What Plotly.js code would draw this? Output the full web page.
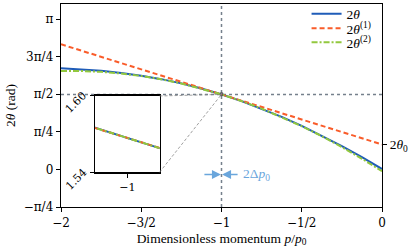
<!DOCTYPE html>
<html>
<head>
<meta charset="utf-8">
<script src="https://cdn.plot.ly/plotly-3.0.1.min.js"></script>
<style>html,body{margin:0;padding:0;background:#fff}#chart{width:415px;height:250px}</style>
</head>
<body>
<div id="chart"></div>
<script>
// ---- data ----
const momentum = [-2, -1.875, -1.75, -1.625, -1.5, -1.375, -1.25, -1.125, -1.0075, -1, -0.9925, -0.875, -0.75, -0.625, -0.5, -0.375, -0.25, -0.125, 0];
const theta2Exact = [2.114, 2.091, 2.059, 2.015, 1.959, 1.886, 1.798, 1.689, 1.575, 1.567, 1.559, 1.427, 1.270, 1.097, 0.909, 0.705, 0.487, 0.255, 0.008];
const theta2Second = [2.056, 2.056, 2.039, 2.004, 1.953, 1.883, 1.796, 1.689, 1.575, 1.567, 1.559, 1.427, 1.270, 1.095, 0.903, 0.694, 0.467, 0.222, -0.036];
const momentumFirst = [-2, -1.0075, -1, -0.9925, 0];
const theta2First = [2.614, 1.575, 1.567, 1.559, 0.520];
const resonanceP = -1;
const resonanceTheta = 1.567;
const deltaP0 = 0.0037;
const theta0Label = 0.520;
const xTickVals = [-2, -1.5, -1, -0.5, 0];
const xTickText = ['\u22122', '\u22123/2', '\u22121', '\u22121/2', '0'];
const yTickVals = [-Math.PI/4, 0, Math.PI/4, Math.PI/2, 3*Math.PI/4, Math.PI];
const yTickText = ['\u2212\u03c0/4', '0', '\u03c0/4', '\u03c0/2', '3\u03c0/4', '\u03c0'];
const insetXRange = [-1.0075, -0.9925];
const insetYRange = [1.54, 1.60];
const insetYTicks = [1.54, 1.60];
const insetYTickText = ['1.54', '1.60'];
const seriesNames = ['2<i>\u03b8</i>', '2<i>\u03b8</i><sup>(1)</sup>', '2<i>\u03b8</i><sup>(2)</sup>'];

// ---- styles ----
const FONT = 'Liberation Serif, Times New Roman, serif';
const TICKFONT = 'DejaVu Serif, serif';
const BLUE = '#1f5cb8', ORANGE = '#f95c2a', GREEN = '#92c83e', GRAY = '#75808c', ANNO = '#6aa6dc';
const yRange = [-Math.PI/4, 1.1*Math.PI];
const insetDomX = [0.106, 0.307], insetDomY = [0.171, 0.547];
const legendRows = [0.951, 0.879, 0.810];

function series(xa, ya, show) {
  return [
    {x: momentum, y: theta2Exact, name: seriesNames[0], mode: 'lines', line: {color: BLUE, width: 2}, xaxis: xa, yaxis: ya, showlegend: show, legend: 'legend'},
    {x: momentumFirst, y: theta2First, name: seriesNames[1], mode: 'lines', line: {color: ORANGE, width: 2, dash: '5px,3px'}, xaxis: xa, yaxis: ya, showlegend: show, legend: 'legend2'},
    {x: momentum, y: theta2Second, name: seriesNames[2], mode: 'lines', line: {color: GREEN, width: 2, dash: '6px,2px,2px,2px'}, xaxis: xa, yaxis: ya, showlegend: show, legend: 'legend3'}
  ];
}
const traces = [...series('x', 'y', true), ...series('x2', 'y2', false)];
traces.push({x: [momentum[0]], y: [theta0Label], xaxis: 'x', yaxis: 'y3', mode: 'markers', marker: {opacity: 0}, showlegend: false, hoverinfo: 'skip'});

const px = (resonanceP - xTickVals[0]) / (xTickVals[4] - xTickVals[0]);
const py = (resonanceTheta - yRange[0]) / (yRange[1] - yRange[0]);

const shapes = [
  {type: 'line', xref: 'x', yref: 'y domain', x0: resonanceP, x1: resonanceP, y0: 0, y1: 1, line: {color: GRAY, width: 1.5, dash: 'dot'}, layer: 'below'},
  {type: 'line', xref: 'x domain', yref: 'y', x0: 0, x1: 1, y0: resonanceTheta, y1: resonanceTheta, line: {color: GRAY, width: 1.5, dash: 'dot'}, layer: 'below'},
  {type: 'rect', xref: 'x2', yref: 'y2 domain', x0: resonanceP - deltaP0, x1: resonanceP + deltaP0, y0: 0, y1: 1, fillcolor: 'rgba(160,196,232,0.45)', line: {width: 0}, layer: 'below'},
  {type: 'line', xref: 'x2', yref: 'y2 domain', x0: resonanceP, x1: resonanceP, y0: 0, y1: 1, line: {color: '#222', width: 1, dash: '3px,2px'}, layer: 'below'},
  {type: 'line', xref: 'x2 domain', yref: 'y2', x0: 0, x1: 1, y0: resonanceTheta, y1: resonanceTheta, line: {color: GRAY, width: 1, dash: 'dot'}, layer: 'below'},
  {type: 'rect', xref: 'x', yref: 'y', x0: insetXRange[0], x1: insetXRange[1], y0: insetYRange[0], y1: insetYRange[1], line: {color: '#555', width: 1}},
  {type: 'line', xref: 'paper', yref: 'paper', x0: insetDomX[1], y0: insetDomY[1], x1: px, y1: py, line: {color: '#888', width: 0.8, dash: '3px,2px'}},
  {type: 'line', xref: 'paper', yref: 'paper', x0: insetDomX[1], y0: insetDomY[0], x1: px, y1: py, line: {color: '#888', width: 0.8, dash: '3px,2px'}}
];

const annotations = [
  {x: resonanceP - deltaP0, y: -0.105, xref: 'x', yref: 'y', ax: -18, ay: 0, text: '', showarrow: true, arrowhead: 2, arrowsize: 1.2, arrowwidth: 1.5, arrowcolor: ANNO},
  {x: resonanceP + deltaP0, y: -0.105, xref: 'x', yref: 'y', ax: 17, ay: 0, text: '', showarrow: true, arrowhead: 2, arrowsize: 1.2, arrowwidth: 1.5, arrowcolor: ANNO},
  {x: resonanceP, y: -0.105, xref: 'x', yref: 'y', xshift: 19, xanchor: 'left', yanchor: 'middle', text: '2\u0394<i>p</i><sub>0</sub>', showarrow: false, font: {family: FONT, size: 13.5, color: ANNO}}
];
insetYTicks.forEach((v, i) => {
  annotations.push({x: 0, y: v, xref: 'x2 domain', yref: 'y2', xanchor: 'center', yanchor: 'middle', xshift: -19, yshift: -7, text: insetYTickText[i], textangle: -45, showarrow: false, font: {family: TICKFONT, size: 11, color: '#000'}});
});

const axisCommon = {showgrid: false, zeroline: false, showline: true, linecolor: '#000', linewidth: 1.3, ticks: 'outside', ticklen: 4, tickwidth: 1, tickcolor: '#000', tickfont: {family: TICKFONT, size: 12, color: '#000'}};
const legendCommon = {x: 0.765, xanchor: 'left', yanchor: 'middle', bgcolor: 'rgba(0,0,0,0)', borderwidth: 0, font: {family: FONT, size: 13.5}, itemwidth: 30};

const layout = {
  width: 415, height: 250,
  margin: {l: 61, r: 33, t: 4, b: 43, pad: 0, autoexpand: false},
  paper_bgcolor: '#fff', plot_bgcolor: '#fff',
  font: {family: FONT, size: 13, color: '#000'},
  showlegend: true,
  legend: {...legendCommon, y: legendRows[0]},
  legend2: {...legendCommon, y: legendRows[1]},
  legend3: {...legendCommon, y: legendRows[2]},
  xaxis: {...axisCommon, range: [xTickVals[0], xTickVals[4]], domain: [0, 1], anchor: 'y', mirror: true, tickvals: xTickVals, ticktext: xTickText,
    title: {text: 'Dimensionless momentum <i>p</i>/<i>p</i><sub>0</sub>', font: {family: FONT, size: 13.5}, standoff: 4}},
  yaxis: {...axisCommon, range: yRange, domain: [0, 1], anchor: 'x', mirror: true, tickvals: yTickVals, ticktext: yTickText,
    title: {text: '2<i>\u03b8</i> (rad)', font: {family: FONT, size: 13.5}, standoff: 5}},
  yaxis3: {...axisCommon, showline: false, range: yRange, overlaying: 'y', side: 'right', anchor: 'x', tickvals: [theta0Label], ticktext: ['2<i>\u03b8</i><sub>0</sub>'], tickfont: {family: FONT, size: 13.5}},
  xaxis2: {...axisCommon, range: insetXRange, domain: insetDomX, anchor: 'y2', mirror: true, linewidth: 1.5, tickvals: [resonanceP], ticktext: ['\u22121'], tickfont: {family: TICKFONT, size: 11}},
  yaxis2: {...axisCommon, range: insetYRange, domain: insetDomY, anchor: 'x2', mirror: true, linewidth: 1.5, tickvals: insetYTicks, showticklabels: false},
  shapes: shapes,
  annotations: annotations
};

Plotly.newPlot('chart', traces, layout, {staticPlot: true, displayModeBar: false});
</script>
</body>
</html>
